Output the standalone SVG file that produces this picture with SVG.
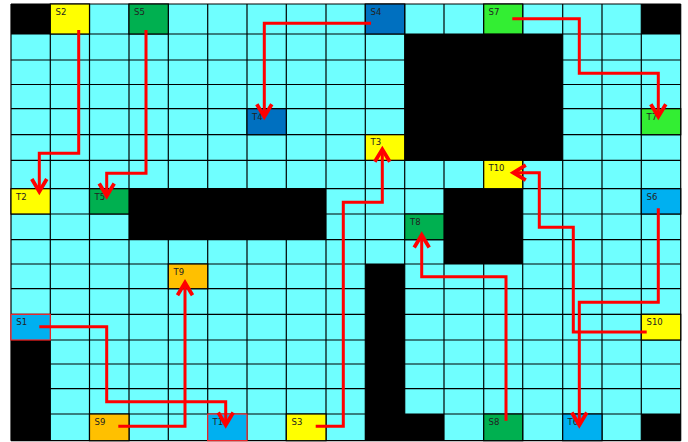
<svg xmlns="http://www.w3.org/2000/svg" width="688" height="442" viewBox="0 0 688 442">
<style>
.grid line{stroke:#000;stroke-width:1.2}
.cell{stroke:#000;stroke-width:1.2}
.blk{fill:#000}
.lbl{font-family:"DejaVu Sans",sans-serif;font-size:8.5px;fill:#222}
.conn{fill:none;stroke:#ff0000;stroke-width:3;stroke-linejoin:miter;marker-end:url(#arr)}
</style>
<defs>
<marker id="arr" markerUnits="userSpaceOnUse" markerWidth="20" markerHeight="20" refX="0" refY="0" orient="auto" viewBox="-12 -8 14 16" overflow="visible">
<path d="M-10,-6 L0,0 L-10,6" fill="none" stroke="#ff0000" stroke-width="3"/>
</marker>
</defs>
<rect x="0" y="0" width="688" height="442" fill="#fff"/>
<rect x="11" y="4" width="669.7" height="436.7" fill="#6FFFFF"/>
<g class="grid">
<line x1="11" y1="4" x2="11" y2="440.7"/><line x1="50.3" y1="4" x2="50.3" y2="440.7"/><line x1="89.5" y1="4" x2="89.5" y2="440.7"/><line x1="129" y1="4" x2="129" y2="440.7"/><line x1="168.3" y1="4" x2="168.3" y2="440.7"/><line x1="207.7" y1="4" x2="207.7" y2="440.7"/><line x1="247" y1="4" x2="247" y2="440.7"/><line x1="286.3" y1="4" x2="286.3" y2="440.7"/><line x1="326" y1="4" x2="326" y2="440.7"/><line x1="365.3" y1="4" x2="365.3" y2="440.7"/><line x1="404.7" y1="4" x2="404.7" y2="440.7"/><line x1="444" y1="4" x2="444" y2="440.7"/><line x1="483.7" y1="4" x2="483.7" y2="440.7"/><line x1="522.7" y1="4" x2="522.7" y2="440.7"/><line x1="562.7" y1="4" x2="562.7" y2="440.7"/><line x1="602" y1="4" x2="602" y2="440.7"/><line x1="641.3" y1="4" x2="641.3" y2="440.7"/><line x1="680.7" y1="4" x2="680.7" y2="440.7"/>
<line x1="11" y1="4" x2="680.7" y2="4"/><line x1="11" y1="34" x2="680.7" y2="34"/><line x1="11" y1="60" x2="680.7" y2="60"/><line x1="11" y1="84.5" x2="680.7" y2="84.5"/><line x1="11" y1="108.7" x2="680.7" y2="108.7"/><line x1="11" y1="134.7" x2="680.7" y2="134.7"/><line x1="11" y1="160.3" x2="680.7" y2="160.3"/><line x1="11" y1="188.7" x2="680.7" y2="188.7"/><line x1="11" y1="214" x2="680.7" y2="214"/><line x1="11" y1="239.7" x2="680.7" y2="239.7"/><line x1="11" y1="264" x2="680.7" y2="264"/><line x1="11" y1="288.7" x2="680.7" y2="288.7"/><line x1="11" y1="314.3" x2="680.7" y2="314.3"/><line x1="11" y1="340" x2="680.7" y2="340"/><line x1="11" y1="364" x2="680.7" y2="364"/><line x1="11" y1="388.7" x2="680.7" y2="388.7"/><line x1="11" y1="414" x2="680.7" y2="414"/><line x1="11" y1="440.7" x2="680.7" y2="440.7"/>
</g>
<g id="obstacles">
<rect class="blk" x="11" y="4" width="39.3" height="30"/>
<rect class="blk" x="641.3" y="4" width="39.4" height="30"/>
<rect class="blk" x="404.7" y="34" width="158" height="126.3"/>
<rect class="blk" x="129" y="188.7" width="197" height="51"/>
<rect class="blk" x="444" y="188.7" width="78.7" height="75.3"/>
<rect class="blk" x="365.3" y="264" width="39.4" height="176.7"/>
<rect class="blk" x="365.3" y="414" width="78.7" height="26.7"/>
<rect class="blk" x="11" y="340" width="39.3" height="100.7"/>
<rect class="blk" x="641.3" y="414" width="39.4" height="26.7"/>
</g>
<g id="S2"><rect class="cell" x="50.3" y="4" width="39.2" height="30" fill="#FFFF00"/><text class="lbl" x="55.5" y="14.5">S2</text></g>
<g id="S5"><rect class="cell" x="129" y="4" width="39.3" height="30" fill="#00B050"/><text class="lbl" x="134" y="14.5">S5</text></g>
<g id="S4"><rect class="cell" x="365.3" y="4" width="39.4" height="30" fill="#0070C0"/><text class="lbl" x="370.5" y="14.5">S4</text></g>
<g id="S7"><rect class="cell" x="483.7" y="4" width="39" height="30" fill="#33EE33"/><text class="lbl" x="488.5" y="14.5">S7</text></g>
<g id="T4"><rect class="cell" x="247" y="108.7" width="39.3" height="26" fill="#0070C0"/><text class="lbl" x="252" y="119.5">T4</text></g>
<g id="T7"><rect class="cell" x="641.3" y="108.7" width="39.4" height="26" fill="#33EE33"/><text class="lbl" x="646.5" y="119.5">T7</text></g>
<g id="T3"><rect class="cell" x="365.3" y="134.7" width="39.4" height="25.6" fill="#FFFF00"/><text class="lbl" x="370.5" y="145">T3</text></g>
<g id="T10"><rect class="cell" x="483.7" y="160.3" width="39" height="28.4" fill="#FFFF00"/><text class="lbl" x="488.5" y="170.5">T10</text></g>
<g id="T2"><rect class="cell" x="11" y="188.7" width="39.3" height="25.3" fill="#FFFF00"/><text class="lbl" x="16" y="199.5">T2</text></g>
<g id="T5"><rect class="cell" x="89.5" y="188.7" width="39.5" height="25.3" fill="#00B050"/><text class="lbl" x="94.5" y="199.5">T5</text></g>
<g id="S6"><rect class="cell" x="641.3" y="188.7" width="39.4" height="25.3" fill="#00B0F0"/><text class="lbl" x="646.5" y="199.5">S6</text></g>
<g id="T8"><rect class="cell" x="404.7" y="214" width="39.3" height="25.7" fill="#00B050"/><text class="lbl" x="410" y="225">T8</text></g>
<g id="T9"><rect class="cell" x="168.3" y="264" width="39.4" height="24.7" fill="#FFC000"/><text class="lbl" x="173.5" y="275">T9</text></g>
<g id="S1"><rect x="11" y="314.3" width="39.3" height="25.7" fill="#00B0F0" stroke="#ff2020" stroke-width="1.2"/><text class="lbl" x="16.3" y="325">S1</text></g>
<g id="S10"><rect class="cell" x="641.3" y="314.3" width="39.4" height="25.7" fill="#FFFF00"/><text class="lbl" x="646.5" y="325">S10</text></g>
<g id="S9"><rect class="cell" x="89.5" y="414" width="39.5" height="26.7" fill="#FFC000"/><text class="lbl" x="94.5" y="425">S9</text></g>
<g id="T1"><rect x="207.7" y="414" width="39.3" height="26.7" fill="#00B0F0" stroke="#ff2020" stroke-width="1.2"/><text class="lbl" x="212.5" y="425">T1</text></g>
<g id="S3"><rect class="cell" x="286.3" y="414" width="39.7" height="26.7" fill="#FFFF00"/><text class="lbl" x="291.5" y="425">S3</text></g>
<g id="S8"><rect class="cell" x="483.7" y="414" width="39" height="26.7" fill="#00B050"/><text class="lbl" x="488.5" y="425">S8</text></g>
<g id="T6"><rect class="cell" x="562.7" y="414" width="39.3" height="26.7" fill="#00B0F0"/><text class="lbl" x="567.5" y="425">T6</text></g>
<g id="connectors">
<path class="conn" d="M78.7,30 V153.3 H39.3 V191.5"/>
<path class="conn" d="M146,30 V173.3 H106.7 V196"/>
<path class="conn" d="M371,23.3 H264.3 V116.7"/>
<path class="conn" d="M512.3,18.7 H579.3 V73.3 H658.3 V116.7"/>
<path class="conn" d="M315.7,426.3 H343.3 V202.3 H382.3 V149.3"/>
<path class="conn" d="M506,420.7 V276.7 H421.7 V235"/>
<path class="conn" d="M658.3,208.3 V302.3 H579.3 V425"/>
<path class="conn" d="M646.7,332 H573.3 V227.3 H539.3 V172.7 H513.3"/>
<path class="conn" d="M39.3,326.7 H106.7 V401.7 H225.7 V425"/>
<path class="conn" d="M118.3,426.3 H185 V282.7"/>
</g>
</svg>
